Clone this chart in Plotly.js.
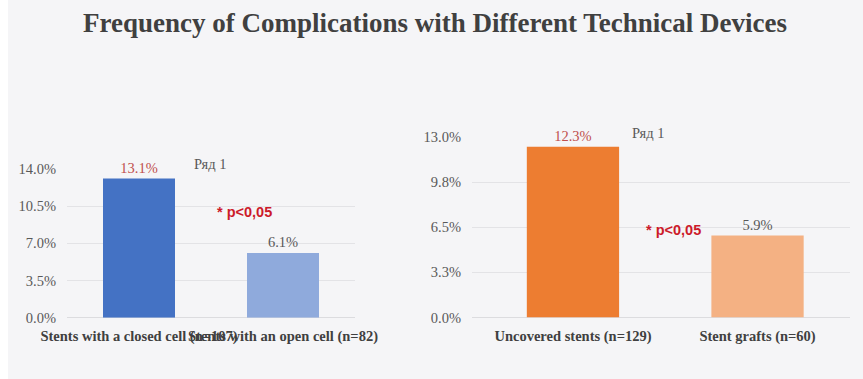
<!DOCTYPE html>
<html>
<head>
<meta charset="utf-8">
<script src="https://cdn.plot.ly/plotly-3.0.1.min.js"></script>
<style>html,body{margin:0;padding:0;background:#f5f5f7;}</style>
</head>
<body>
<div id="chart" style="width:863px;height:379px;"></div>
<script>
// Left chart data
const leftCategories = ["Stents with a closed cell (n=107)", "Stents with an open cell (n=82)"];
const leftValues = [13.1, 6.1];
const leftTickVals = [0, 3.5, 7, 10.5, 14];
const leftTickText = ["0.0%", "3.5%", "7.0%", "10.5%", "14.0%"];

// Right chart data
const rightCategories = ["Uncovered stents (n=129)", "Stent grafts (n=60)"];
const rightValues = [12.3, 5.9];
const rightTickVals = [0, 3.25, 6.5, 9.75, 13];
const rightTickText = ["0.0%", "3.3%", "6.5%", "9.8%", "13.0%"];

const seriesName = "Ряд 1";
const titleText = "Frequency of Complications with Different Technical Devices";
const pNote = "* p<0,05";

const W = 863, H = 379;
const px = x => x / W;
const py = y => 1 - y / H;

const serif = "Liberation Serif, Times New Roman, serif";
const sans = "Liberation Sans, Arial, sans-serif";
const red = "#c0504d";
const pRed = "#cc1a2a";
const gray = "#595959";

const traces = [
  {
    type: "bar", x: leftCategories, y: leftValues, xaxis: "x", yaxis: "y",
    marker: {color: ["#4472c4", "#8faadc"]}, width: 0.5,
    texttemplate: "%{y:.1f}%", textposition: "outside", cliponaxis: false,
    textfont: {family: serif, size: 14.5, color: [red, gray]},
    hoverinfo: "none", showlegend: false
  },
  {
    type: "bar", x: rightCategories, y: rightValues, xaxis: "x2", yaxis: "y2",
    marker: {color: ["#ed7d31", "#f4b183"]}, width: 0.5,
    texttemplate: "%{y:.1f}%", textposition: "outside", cliponaxis: false,
    textfont: {family: serif, size: 14.5, color: [red, gray]},
    hoverinfo: "none", showlegend: false
  }
];

const yCommon = {
  showgrid: true, gridcolor: "#e3e3e6", gridwidth: 1,
  zeroline: true, zerolinecolor: "#dcdcdf", zerolinewidth: 1,
  showline: false, ticks: "", tickmode: "array",
  tickfont: {family: serif, size: 14.5, color: gray},
  ticklabelstandoff: 10, fixedrange: true
};
const xCommon = {
  showgrid: false, zeroline: false, showline: false, ticks: "",
  tickangle: 0,
  tickfont: {family: serif, size: 14.5, color: "#404040", weight: "bold"},
  ticklabelstandoff: 8, fixedrange: true
};

const layout = {
  width: W, height: H,
  margin: {l: 0, r: 0, t: 0, b: 0, pad: 0},
  paper_bgcolor: "#f5f5f7", plot_bgcolor: "rgba(0,0,0,0)",
  showlegend: false, bargap: 0.5,
  xaxis: Object.assign({}, xCommon, {domain: [px(67), px(355)], anchor: "y", range: [-0.5, 1.5]}),
  yaxis: Object.assign({}, yCommon, {domain: [py(317.7), py(169)], anchor: "x", range: [0, 14],
    tickvals: leftTickVals, ticktext: leftTickText}),
  xaxis2: Object.assign({}, xCommon, {domain: [px(472), px(850)], anchor: "y2", range: [-0.547, 1.501]}),
  yaxis2: Object.assign({}, yCommon, {domain: [py(317.5), py(137)], anchor: "x2", range: [0, 13],
    tickvals: rightTickVals, ticktext: rightTickText}),
  shapes: [
    {type: "rect", xref: "paper", yref: "paper", x0: 0, x1: px(8), y0: 0, y1: 1,
     fillcolor: "#ffffff", line: {width: 0}, layer: "below"}
  ],
  annotations: [
    {text: titleText, xref: "paper", yref: "paper", x: px(435), y: py(23),
     xanchor: "center", yanchor: "middle", showarrow: false,
     font: {family: serif, size: 27, color: "#404040", weight: "bold"}},
    {text: seriesName, xref: "paper", yref: "paper", x: px(210), y: py(164),
     xanchor: "center", yanchor: "middle", showarrow: false,
     font: {family: serif, size: 14.5, color: gray}},
    {text: seriesName, xref: "paper", yref: "paper", x: px(648), y: py(133),
     xanchor: "center", yanchor: "middle", showarrow: false,
     font: {family: serif, size: 14.5, color: gray}},
    {text: pNote, xref: "paper", yref: "paper", x: px(245), y: py(212),
     xanchor: "center", yanchor: "middle", showarrow: false,
     font: {family: sans, size: 14.5, color: pRed, weight: "bold"}},
    {text: pNote, xref: "paper", yref: "paper", x: px(673), y: py(230),
     xanchor: "center", yanchor: "middle", showarrow: false,
     font: {family: sans, size: 14.5, color: pRed, weight: "bold"}}
  ]
};

Plotly.newPlot("chart", traces, layout, {displayModeBar: false, staticPlot: true});
</script>
</body>
</html>
